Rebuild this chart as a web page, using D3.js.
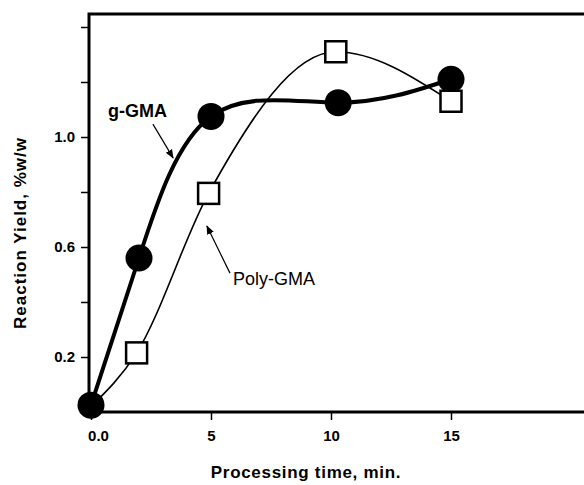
<!DOCTYPE html>
<html>
<head>
<meta charset="utf-8">
<script src="https://cdn.jsdelivr.net/npm/d3@7"></script>
<style>
  body { margin: 0; background: #fff; }
  svg { display: block; font-family: Arial, "Liberation Sans", sans-serif; }
</style>
</head>
<body>
<svg></svg>
<script>
const width = 584
const height = 485

// g-GMA (filled circles)
const gTime = [0, 2, 5, 10.3, 15]
const gYield = [0.025, 0.56, 1.075, 1.125, 1.21]

// Poly-GMA (open squares), first point sits under the g-GMA circle at 0
const polyTime = [0, 1.9, 4.9, 10.2, 15]
const polyYield = [0.02, 0.215, 0.795, 1.31, 1.13]

const xTicks = [0, 5, 10, 15]
const xTickLabels = ['0.0', '5', '10', '15']
const yTicks = [0.2, 0.4, 0.6, 0.8, 1.0, 1.2, 1.4]
const yTickLabels = ['0.2', '', '0.6', '', '1.0', '', '']

const svg = d3.select('svg').attr('width', width).attr('height', height)

// 比例尺
const x = d3.scaleLinear().domain([0, 20]).range([91, 571])
const y = d3.scaleLinear().domain([0, 1.4]).range([412, 27])

// 坐标框
svg.append('path')
    .attr('d', 'M620,14H89V412H620')
    .attr('fill', 'none')
    .attr('stroke', '#000')
    .attr('stroke-width', 3)

// x轴刻度
let xAxis = svg.append('g')
    .attr('transform', 'translate(0,412)')
    .call(d3.axisBottom(x).tickValues(xTicks).tickSize(8).tickPadding(10)
        .tickFormat((d, i) => xTickLabels[i]))
xAxis.select('.domain').remove()
xAxis.selectAll('line').attr('stroke-width', 1.5)
xAxis.selectAll('text')
    .attr('font-size', 15).attr('font-weight', 'bold').attr('font-family', 'Arial, sans-serif')
    .attr('dx', d => d === 0 ? 7 : 0)

// y轴刻度
let yAxis = svg.append('g')
    .attr('transform', 'translate(89,0)')
    .call(d3.axisLeft(y).tickValues(yTicks).tickSize(8).tickPadding(6)
        .tickFormat((d, i) => yTickLabels[i]))
yAxis.select('.domain').remove()
yAxis.selectAll('line').attr('stroke-width', 1.5)
yAxis.selectAll('text')
    .attr('font-size', 15).attr('font-weight', 'bold').attr('font-family', 'Arial, sans-serif')

// 轴标题
svg.append('text')
    .attr('x', 306).attr('y', 478)
    .attr('text-anchor', 'middle')
    .attr('font-size', 17).attr('font-weight', 'bold')
    .attr('letter-spacing', 0.7)
    .text('Processing time, min.')

svg.append('text')
    .attr('transform', 'translate(26,233) rotate(-90)')
    .attr('text-anchor', 'middle')
    .attr('font-size', 17).attr('font-weight', 'bold')
    .attr('letter-spacing', 1)
    .text('Reaction Yield, %w/w')

const gData = gTime.map((t, i) => ({t: t, v: gYield[i]}))
const polyData = polyTime.map((t, i) => ({t: t, v: polyYield[i]}))

const gLine = d3.line().x(d => x(d.t)).y(d => y(d.v)).curve(d3.curveNatural)
const polyLine = d3.line().x(d => x(d.t)).y(d => y(d.v)).curve(d3.curveMonotoneX)

svg.append('path').datum(gData)
    .attr('d', gLine).attr('fill', 'none').attr('stroke', '#000').attr('stroke-width', 4)

svg.append('path').datum(polyData)
    .attr('d', polyLine).attr('fill', 'none').attr('stroke', '#000').attr('stroke-width', 1.6)

// 圆点
svg.selectAll('.dot').data(gData).enter().append('circle')
    .attr('cx', d => x(d.t)).attr('cy', d => y(d.v)).attr('r', 13.5)
    .attr('fill', '#000')

// 方块（0处与圆点重合，不单独画）
const s = 21
svg.selectAll('.sq').data(polyData.slice(1)).enter().append('rect')
    .attr('x', d => x(d.t) - s / 2).attr('y', d => y(d.v) - s / 2)
    .attr('width', s).attr('height', s)
    .attr('fill', '#fff').attr('stroke', '#000').attr('stroke-width', 2.5)

// 箭头
svg.append('defs').append('marker')
    .attr('id', 'arrow')
    .attr('viewBox', '0 0 10 10')
    .attr('refX', 9).attr('refY', 5)
    .attr('markerWidth', 9).attr('markerHeight', 9)
    .attr('markerUnits', 'userSpaceOnUse')
    .attr('orient', 'auto')
    .append('path').attr('d', 'M0,1L10,5L0,9Z').attr('fill', '#000')

svg.append('line')
    .attr('x1', x(2.58)).attr('y1', y(1.047))
    .attr('x2', x(3.42)).attr('y2', y(0.924))
    .attr('stroke', '#000').attr('stroke-width', 1.2)
    .attr('marker-end', 'url(#arrow)')

svg.append('line')
    .attr('x1', x(5.79)).attr('y1', y(0.505))
    .attr('x2', x(4.83)).attr('y2', y(0.676))
    .attr('stroke', '#000').attr('stroke-width', 1.2)
    .attr('marker-end', 'url(#arrow)')

svg.append('text')
    .attr('x', x(0.71)).attr('y', y(1.073))
    .attr('font-size', 18).attr('font-weight', 'bold')
    .text('g-GMA')

svg.append('text')
    .attr('x', x(5.92)).attr('y', y(0.462))
    .attr('font-size', 18)
    .text('Poly-GMA')
</script>
</body>
</html>
